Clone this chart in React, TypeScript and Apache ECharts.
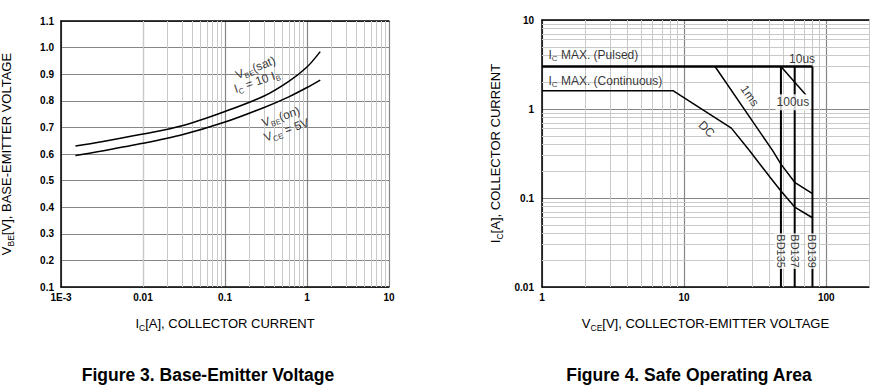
import React, { useEffect, useRef } from 'react';
import * as echarts from 'echarts';

// ---------- Figure 3 data: Base-Emitter voltage ----------
const beCurrent = [0.0015, 0.003, 0.01, 0.03, 0.1, 0.3, 0.6, 1.0, 1.45];
const vbeSat = [0.63, 0.645, 0.675, 0.706, 0.76, 0.818, 0.873, 0.927, 0.985];
const vbeOn = [0.594, 0.61, 0.64, 0.672, 0.72, 0.775, 0.815, 0.85, 0.878];
const leftXTickLabels = ['1E-3', '0.01', '0.1', '1', '10'];

// ---------- Figure 4 data: Safe operating area ----------
const pulsedV = [1, 80];
const pulsedI = [3, 3];
const dcV = [1, 8.4, 21.5, 29, 40, 48, 55, 60, 80];
const dcI = [1.6, 1.6, 0.61, 0.338, 0.173, 0.12, 0.093, 0.079, 0.06];
const ms1V = [16.5, 42, 48, 60, 80];
const ms1I = [3, 0.34, 0.24, 0.15, 0.112];
const us100V = [48, 72];
const us100I = [3, 1.44];
const bdNames = ['BD135', 'BD137', 'BD139'];
const bdVceo = [48, 60, 80];
const soaIFloor = 0.01;
const rightXTickLabels = ['1', '10', '100'];
const rightYTickLabels = ['0.01', '0.1', '1', '10'];

// minor grid multipliers
const minorSteps = [2, 3, 4, 5, 6, 7, 8, 9];
const leftXDecades = [0.001, 0.01, 0.1, 1];
const rightXDecades = [1, 10, 100];
const rightYDecades = [0.01, 0.1, 1];

const F = '"Liberation Sans", Arial, Helvetica, sans-serif';
const MAJOR = '#868686';
const MINOR = '#c9c9c9';

const rich = (size: number, sub: number) => ({
  n: { fontSize: size, lineHeight: size + 4, fontFamily: F, color: '#000' },
  s: { fontSize: sub, lineHeight: sub + 1, fontFamily: F, color: '#000', verticalAlign: 'bottom' },
});

const minorOf = (decades: number[], max: number) => {
  const out: number[] = [];
  decades.forEach((d) => minorSteps.forEach((m) => { const v = +(d * m).toPrecision(6); if (v <= max) out.push(v); }));
  return out;
};

const expIdx = (v: number, base: number) => Math.round(Math.log10(v)) - base;

export default function App() {
  const ref = useRef<HTMLDivElement>(null);
  useEffect(() => {
    if (!ref.current) return;
    const chart = echarts.init(ref.current, undefined, { renderer: 'svg' });

    const tickLabel = { fontFamily: F, fontSize: 10, fontWeight: 'bold', color: '#000' };
    const blackLine = { show: true, lineStyle: { color: '#000', width: 1.5 } };
    const minorLine = (data: any[]) => ({
      silent: true,
      symbol: ['none', 'none'],
      label: { show: false },
      lineStyle: { color: MINOR, type: 'solid', width: 1 },
      emphasis: { disabled: true },
      data,
    });
    const curve = (x: number[], y: number[], xi: number, yi: number, w = 1.5, smooth: any = false) => ({
      type: 'line',
      xAxisIndex: xi,
      yAxisIndex: yi,
      data: x.map((v, i) => [v, y[i]]),
      showSymbol: false,
      symbol: 'none',
      smooth,
      silent: true,
      z: 5,
      lineStyle: { color: '#000', width: w },
    });
    const note = (text: string, value: number[], extra: any = {}) => ({
      value,
      label: { show: true, position: 'inside', formatter: text, ...extra },
    });

    const leftNotes = [
      note('{n|V}{s|BE}{n|(sat)}', [0.235, 0.925], { rotate: 22 }),
      note('{n|I}{s|C}{n| = 10 I}{s|B}', [0.245, 0.873], { rotate: 19 }),
      note('{n|V}{s|BE}{n|(on)}', [0.48, 0.74], { rotate: 19 }),
      note('{n|V}{s|CE}{n| = 5V}', [0.56, 0.69], { rotate: 20 }),
    ];
    const rightNotes = [
      note('{n|I}{s|C}{n| MAX. (Pulsed)}', [1.11, 4.09], { position: 'right', distance: 0 }),
      note('{n|I}{s|C}{n| MAX. (Continuous)}', [1.11, 2.08], { position: 'right', distance: 0 }),
      note('{n|10us}', [67.6, 3.66]),
      note('{n|100us}', [58.3, 1.19], { backgroundColor: '#fff', padding: [0, 1] }),
      note('{n|1ms}', [29, 1.41], { rotate: -55 }),
      note('{n|DC}', [14.4, 0.595], { rotate: -45 }),
      ...bdNames.map((b, i) =>
        note('{b|' + b + '}', [bdVceo[i], 0.0253], { rotate: -90, backgroundColor: '#fff', padding: [0, 1] })
      ),
    ];

    const option: any = {
      animation: false,
      grid: [
        { left: 61, top: 21, width: 328, height: 266, outerBoundsMode: 'none' },
        { left: 542, top: 20, width: 327, height: 267, outerBoundsMode: 'none' },
      ],
      xAxis: [
        {
          type: 'log', gridIndex: 0, min: 0.001, max: 10, logBase: 10,
          axisLine: blackLine, axisTick: { show: false },
          axisLabel: { ...tickLabel, margin: 5, formatter: (v: number) => leftXTickLabels[expIdx(v, -3)] ?? '' },
          splitLine: { show: true, lineStyle: { color: MAJOR, width: 1.2 } },
          minorTick: { show: false }, minorSplitLine: { show: false },
          name: '{n|I}{s|C}{n|[A], COLLECTOR CURRENT}', nameLocation: 'middle', nameGap: 28, nameMoveOverlap: false,
          nameTextStyle: { rich: rich(13, 8.5) },
        },
        {
          type: 'log', gridIndex: 0, min: 0.001, max: 10, position: 'top',
          axisLine: blackLine, axisTick: { show: false }, axisLabel: { show: false }, splitLine: { show: false },
        },
        {
          type: 'log', gridIndex: 1, min: 1, max: 200, logBase: 10,
          axisLine: blackLine, axisTick: { show: false },
          axisLabel: { ...tickLabel, margin: 5, showMaxLabel: false, formatter: (v: number) => {
            const k = Math.log10(v); return Math.abs(k - Math.round(k)) < 1e-6 ? rightXTickLabels[Math.round(k)] ?? '' : '';
          } },
          splitLine: { show: true, showMaxLine: false, lineStyle: { color: MAJOR, width: 1.2 } },
          minorTick: { show: false }, minorSplitLine: { show: false },
          name: '{n|V}{s|CE}{n|[V], COLLECTOR-EMITTER VOLTAGE}', nameLocation: 'middle', nameGap: 28, nameMoveOverlap: false,
          nameTextStyle: { rich: rich(13, 8.5) },
        },
        {
          type: 'log', gridIndex: 1, min: 1, max: 200, position: 'top',
          axisLine: blackLine, axisTick: { show: false }, axisLabel: { show: false }, splitLine: { show: false },
        },
      ],
      yAxis: [
        {
          type: 'value', gridIndex: 0, min: 0.1, max: 1.1, interval: 0.1,
          axisLine: blackLine, axisTick: { show: false },
          axisLabel: { ...tickLabel, margin: 7, formatter: (v: number) => v.toFixed(1) },
          splitLine: { show: true, lineStyle: { color: MAJOR, width: 1.2 } },
          name: '{n|V}{s|BE}{n|[V], BASE-EMITTER VOLTAGE}', nameLocation: 'middle', nameGap: 46, nameMoveOverlap: false,
          nameTextStyle: { rich: rich(13, 8.5) },
        },
        {
          type: 'log', gridIndex: 1, min: 0.01, max: 10, logBase: 10,
          axisLine: blackLine, axisTick: { show: false },
          axisLabel: { ...tickLabel, margin: 8, formatter: (v: number) => rightYTickLabels[expIdx(v, -2)] ?? '' },
          splitLine: { show: true, lineStyle: { color: MAJOR, width: 1.2 } },
          minorTick: { show: false }, minorSplitLine: { show: false },
          name: '{n|I}{s|C}{n|[A], COLLECTOR CURRENT}', nameLocation: 'middle', nameGap: 38, nameMoveOverlap: false,
          nameTextStyle: { rich: rich(13, 8.5) },
        },
      ],
      series: [
        // minor grids
        {
          type: 'line', xAxisIndex: 0, yAxisIndex: 0, data: [], z: 1, silent: true,
          markLine: minorLine(minorOf(leftXDecades, 10).map((v) => ({ xAxis: v }))),
        },
        {
          type: 'line', xAxisIndex: 2, yAxisIndex: 1, data: [], z: 1, silent: true,
          markLine: minorLine([
            ...minorOf(rightXDecades, 200).map((v) => ({ xAxis: v })),
            ...minorOf(rightYDecades, 10).map((v) => ({ yAxis: v })),
          ]),
        },
        // figure 3 curves
        curve(beCurrent, vbeSat, 0, 0, 1.5, 0.3),
        curve(beCurrent, vbeOn, 0, 0, 1.5, 0.3),
        // figure 4 curves
        curve(pulsedV, pulsedI, 2, 1, 2.5),
        curve(dcV, dcI, 2, 1, 1.5),
        curve(ms1V, ms1I, 2, 1, 1.5),
        curve(us100V, us100I, 2, 1, 1.5),
        ...bdVceo.map((v) => curve([v, v], [pulsedI[0], soaIFloor], 2, 1, 2)),
        // annotations
        {
          type: 'scatter', xAxisIndex: 0, yAxisIndex: 0, symbolSize: 0, z: 10, silent: true,
          label: { show: true, rich: rich(12, 7.5) },
          data: leftNotes,
        },
        {
          type: 'scatter', xAxisIndex: 2, yAxisIndex: 1, symbolSize: 0, z: 10, silent: true,
          label: { show: true, rich: { ...rich(12, 8), b: { fontSize: 11, lineHeight: 13, fontFamily: F, color: '#000' } } },
          data: rightNotes,
        },
      ],
      graphic: [
        { type: 'text', x: 208, y: 375, style: { text: 'Figure 3. Base-Emitter Voltage', align: 'center', verticalAlign: 'middle', fontFamily: F, fontSize: 17.5, fontWeight: 'bold', fill: '#000' } },
        { type: 'text', x: 689, y: 375, style: { text: 'Figure 4. Safe Operating Area', align: 'center', verticalAlign: 'middle', fontFamily: F, fontSize: 17.5, fontWeight: 'bold', fill: '#000' } },
      ],
    };
    chart.setOption(option);
    return () => chart.dispose();
  }, []);
  return <div ref={ref} style={{ position: 'fixed', left: 0, top: 0, width: 888, height: 391, background: '#fff' }} />;
}
